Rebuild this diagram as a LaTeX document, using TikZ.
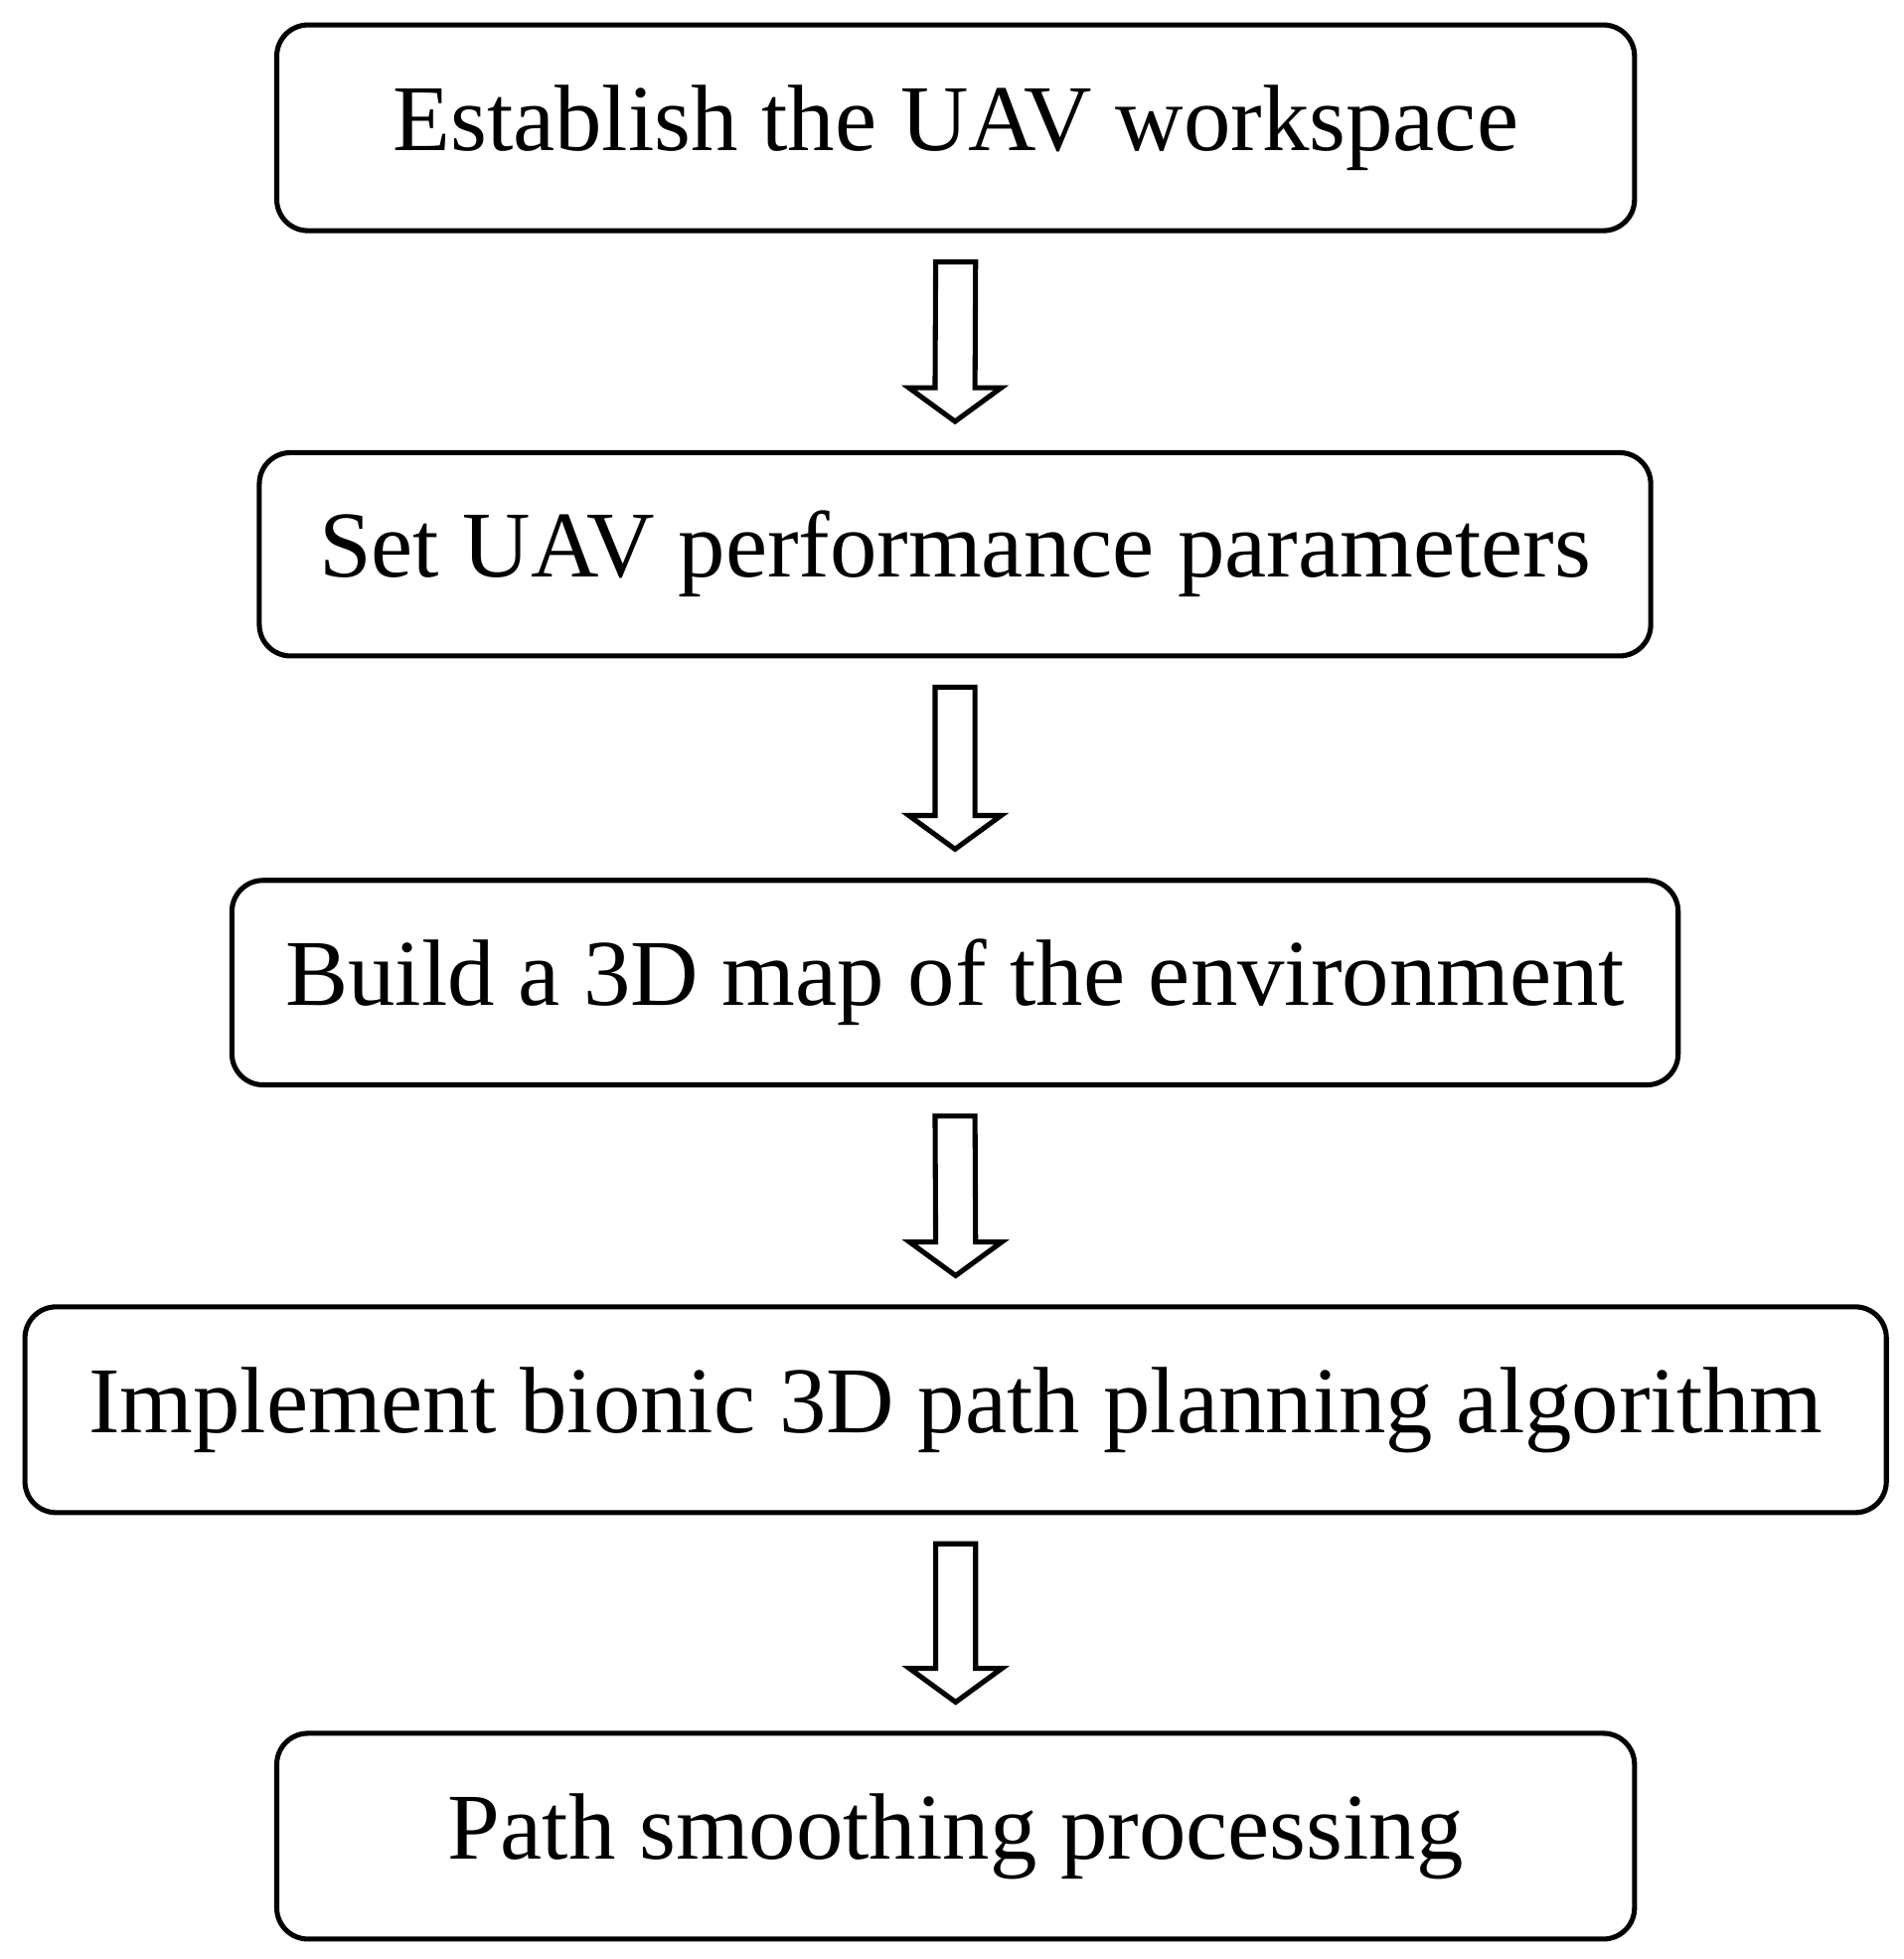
\documentclass[tikz,border=0pt]{standalone}
\usepackage{fontspec}
\setmainfont{Liberation Serif}
\usetikzlibrary{calc}
\begin{document}
\begin{tikzpicture}[x=0.02cm,y=-0.02cm,
 box/.style={draw,line width=2.3pt,rounded corners=0.5cm,inner sep=0pt,font=\fontsize{43}{50}\selectfont},
 hollow/.style={draw,line width=2.3pt,fill=white,line join=miter}]
\useasboundingbox (0,0) rectangle (1527,1571);
\node[box,minimum width=1089*0.02cm,minimum height=165*0.02cm] (b1) at (766.5,102.5) {Establish the UAV workspace};
\node[box,minimum width=1116*0.02cm,minimum height=163*0.02cm] (b2) at (766,444.5) {Set UAV performance parameters};
\node[box,minimum width=1160*0.02cm,minimum height=164*0.02cm] (b3) at (766,788) {Build a 3D map of the environment};
\node[box,minimum width=1493*0.02cm,minimum height=165*0.02cm] (b4) at (766.5,1130.5) {Implement bionic 3D path planning algorithm};
\node[box,minimum width=1089*0.02cm,minimum height=165*0.02cm] (b5) at (766.5,1472.5) {Path smoothing processing};
\foreach \a/\b in {b1/b2,b2/b3,b3/b4,b4/b5}{
 \draw[hollow] ($(\a.south)+(-16,23)$) -- ($(\a.south)+(16,23)$) -- ($(\b.north)+(16,-50)$) -- ($(\b.north)+(37,-50)$) -- ($(\b.north)+(0,-23)$) -- ($(\b.north)+(-37,-50)$) -- ($(\b.north)+(-16,-50)$) -- cycle;
}
\end{tikzpicture}
\end{document}
